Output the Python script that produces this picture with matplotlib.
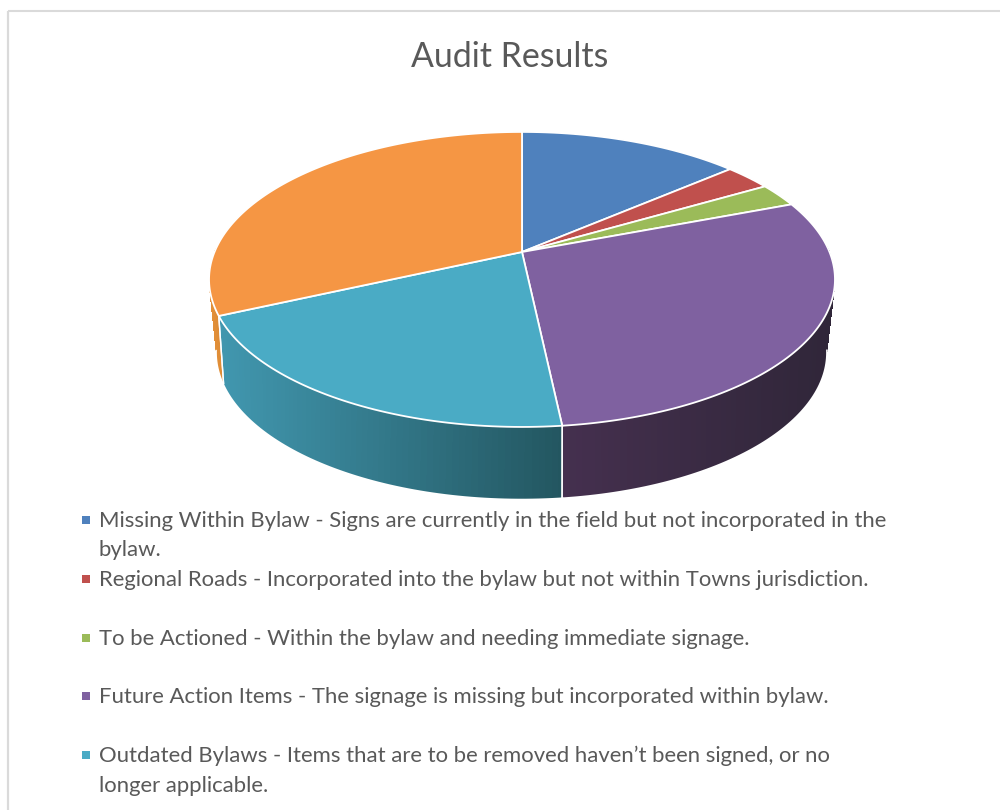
import numpy as np
import matplotlib
matplotlib.use("Agg")
import matplotlib.pyplot as plt
from matplotlib.colors import to_rgb
from matplotlib.path import Path
from matplotlib.patches import Rectangle
from matplotlib.transforms import Transform, Affine2D

title = "Audit Results"
categories = ["Missing Within Bylaw", "Regional Roads", "To be Actioned",
              "Future Action Items", "Outdated Bylaws", "Other"]
values = [13.7, 2.9, 2.6, 29.1, 19.9, 31.8]
colors = ["#4F81BD", "#C0504D", "#9BBB59", "#7F61A0", "#4AABC5", "#F59644"]
side_left = ["#4F81BD", "#C0504D", "#9BBB59", "#45304F", "#4197AF", "#E39039"]
side_right = ["#4F81BD", "#C0504D", "#9BBB59", "#302639", "#235660", "#DB8A35"]
legend_lines = [
    ["Missing Within Bylaw - Signs are currently in the field but not incorporated in the", "bylaw."],
    ["Regional Roads - Incorporated into the bylaw but not within Towns jurisdiction."],
    ["To be Actioned - Within the bylaw and needing immediate signage."],
    ["Future Action Items - The signage is missing but incorporated within bylaw."],
    ["Outdated Bylaws - Items that are to be removed haven\u2019t been signed, or no", "longer applicable."],
]
legend_baselines = [527, 586, 645, 703, 762]
text_color = "#595959"
font = "Lato"
legend_size = 15.95
title_size = 24.4


class Perspective(Transform):
    """Tilted unit disc to figure pixels."""
    input_dims = output_dims = 2

    def __init__(self, cx, cy, rx, ry, k):
        super().__init__()
        self.p = (cx, cy, rx, ry, k)

    def transform_non_affine(self, xy):
        cx, cy, rx, ry, k = self.p
        xy = np.asarray(xy, float)
        d = 1 + k * xy[:, 1]
        return np.column_stack([cx + rx * xy[:, 0] / d, cy - ry * xy[:, 1] / d])

    def transform_path_non_affine(self, path):
        scale = Affine2D().scale(2000)
        polys = path.to_polygons(transform=scale, closed_only=False)
        return Path(self.transform_non_affine(np.vstack(polys) / 2000))


fig = plt.figure(figsize=(10, 8.1), dpi=100, facecolor="white")
ax = fig.add_axes([0, 0, 1, 1])

top = Perspective(522, 252, 307.5, 142.4, 0.186)
bottom = Perspective(521.5, 319.6, 297.5, 139.9, 0.22)

wedges, _ = ax.pie(values, colors=colors, startangle=90, counterclock=False,
                   wedgeprops=dict(edgecolor="white", linewidth=1.3, zorder=5))
ax.set_aspect("auto")
ax.set_xlim(0, 1000)
ax.set_ylim(810, 0)
ax.axis("off")
for w in wedges:
    w.set_transform(top + ax.transData)

# Rim of the disc, drawn from the slice angles that pie() worked out
quads, seams, rims = [], [], []
for w, lc, rc in zip(wedges, side_left, side_right):
    all_t = np.radians(np.append(np.arange(w.theta1, w.theta2, 1.0), w.theta2))
    t = all_t[np.sin(all_t) < 0.05]
    if len(t) < 2:
        continue
    uv = np.column_stack([np.cos(t), np.sin(t)])
    p1, p2 = top.transform_non_affine(uv), bottom.transform_non_affine(uv)
    xmin, span = p2[:, 0].min(), np.ptp(p2[:, 0]) or 1
    lc, rc = np.array(to_rgb(lc)), np.array(to_rgb(rc))
    for i in range(len(t) - 1):
        f = ((p2[i, 0] + p2[i + 1, 0]) / 2 - xmin) / span
        quads.append((-np.sin(t[i]), np.vstack([p1[i], p1[i + 1], p2[i + 1], p2[i]]), lc + (rc - lc) * f))
    if np.sin(all_t[0]) < 0.05:
        seams.append(np.vstack([p1[0], p2[0]]))
    if np.sin(all_t[-1]) < 0.05:
        seams.append(np.vstack([p1[-1], p2[-1]]))
    rims.append(p2[np.sin(t) < -0.2])

# far strips first so the nearer ones cover them
for _, pts, c in sorted(quads, key=lambda q: q[0]):
    ax.fill(pts[:, 0], pts[:, 1], color=c, lw=0, antialiased=False, zorder=2)
for pts in rims:
    ax.plot(pts[:, 0] + np.sign(pts[:, 0] - 521.5) * 0.5, pts[:, 1] + 0.6, color="white", lw=1.2, zorder=3)
for pts in seams:
    ax.plot(pts[:, 0], pts[:, 1], color="white", lw=1.0, zorder=3)

# Frame of the chart area
ax.add_patch(Rectangle((8, 10.5), 1100, 1000, fill=False, edgecolor="#DADADA", lw=1.5, zorder=1))
ax.add_patch(Rectangle((7, 10.5), 1.0, 1000, fill=True, facecolor="#DADADA", edgecolor="#DADADA", lw=0.8, zorder=1))

ax.text(510, 67, title, ha="center", va="baseline", fontsize=title_size,
        color=text_color, family=font)

for color, lines, base in zip(colors, legend_lines, legend_baselines):
    ax.add_patch(Rectangle((82, base - 11), 8, 8, facecolor=color, edgecolor="none", zorder=4))
    for j, line in enumerate(lines):
        ax.text(99, base + j * 29.5, line, ha="left", va="baseline",
                fontsize=legend_size, color=text_color, family=font)

fig.savefig("out.png", dpi=100, facecolor="white")
